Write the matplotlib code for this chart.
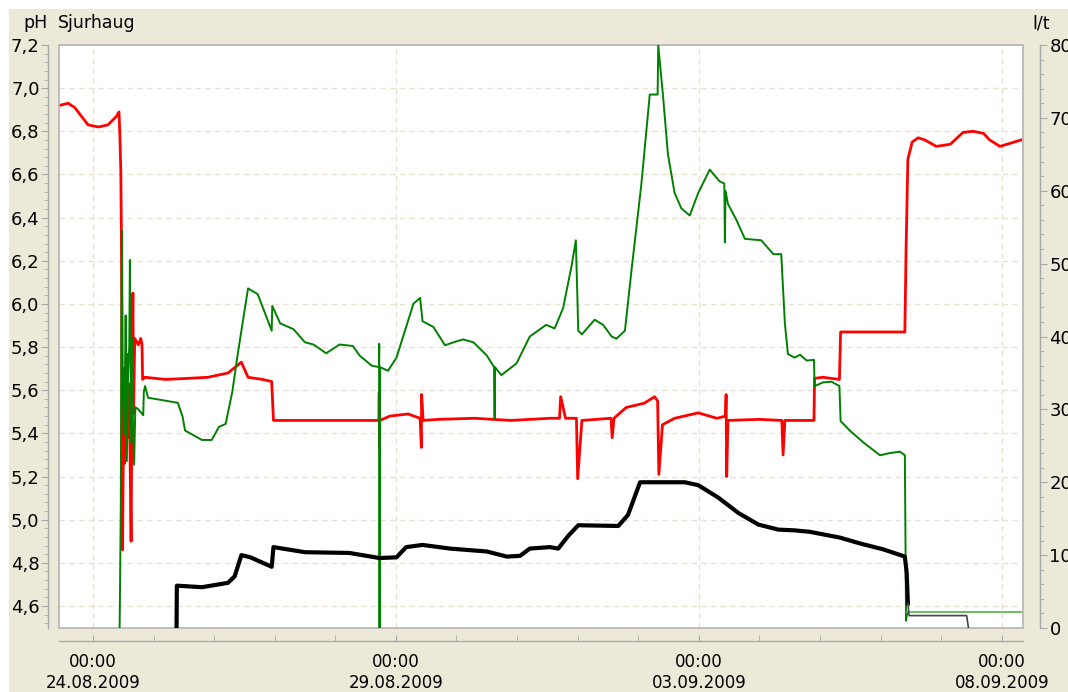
import numpy as np
import matplotlib
matplotlib.use("Agg")
import matplotlib.pyplot as plt
import matplotlib.ticker as mticker
from matplotlib.patches import Rectangle

# ── Data (days since 24.08.2009 00:00) ───────────────────────────
red_t = [-0.55, -0.41, -0.30, -0.19, -0.08, 0.09, 0.25, 0.39, 0.43, 0.445, 0.46, 0.47,
         0.475, 0.48, 0.49, 0.51, 0.52, 0.55, 0.57, 0.59, 0.61, 0.63, 0.65, 0.66, 0.67,
         0.69, 0.75, 0.79, 0.81, 0.82, 0.86, 1.20, 1.57, 1.90, 2.23, 2.45, 2.56, 2.80,
         2.95, 2.98, 3.50, 4.20, 4.72, 4.725, 4.73, 4.735, 4.90, 5.20, 5.40, 5.42, 5.425,
         5.45, 5.70, 6.30, 6.90, 7.54, 7.70, 7.72, 7.80, 7.98, 8.00, 8.07, 8.55, 8.57, 8.60,
         8.80, 9.10, 9.27, 9.32, 9.34, 9.40, 9.60, 9.99, 10.30, 10.44, 10.45, 10.46, 10.48,
         11.00, 11.37, 11.39, 11.42, 11.60, 11.90, 11.91, 12.05, 12.32, 12.34, 12.70, 13.00,
         13.40, 13.42, 13.45, 13.52, 13.62, 13.73, 13.92, 14.15, 14.36, 14.53, 14.70, 14.80,
         14.97, 15.32]
red_ph = [6.92, 6.93, 6.91, 6.87, 6.83, 6.82, 6.83, 6.87, 6.89, 6.78, 6.62, 6.30,
          5.98, 5.45, 4.86, 5.70, 5.26, 5.77, 5.38, 5.63, 5.36, 4.90, 5.88, 6.05, 5.49,
          5.84, 5.81, 5.84, 5.81, 5.65, 5.66, 5.65, 5.655, 5.66, 5.68, 5.73, 5.66, 5.65,
          5.64, 5.46, 5.46, 5.46, 5.46, 5.59, 5.33, 5.46, 5.48, 5.49, 5.47, 5.335, 5.58,
          5.46, 5.465, 5.47, 5.46, 5.47, 5.47, 5.57, 5.47, 5.47, 5.19, 5.46, 5.47, 5.38, 5.47,
          5.52, 5.54, 5.57, 5.55, 5.21, 5.44, 5.47, 5.495, 5.47, 5.48, 5.58, 5.20, 5.46,
          5.465, 5.46, 5.30, 5.46, 5.46, 5.46, 5.655, 5.66, 5.65, 5.87, 5.87, 5.87,
          5.87, 6.25, 6.67, 6.75, 6.77, 6.76, 6.73, 6.74, 6.795, 6.80, 6.79, 6.76,
          6.73, 6.76]

green_t = [0.44, 0.445, 0.46, 0.47, 0.48, 0.49, 0.51, 0.525, 0.54, 0.56, 0.58, 0.60,
           0.61, 0.63, 0.65, 0.66, 0.68, 0.70, 0.75, 0.83, 0.84, 0.86, 0.91, 1.40, 1.48,
           1.52, 1.80, 1.96, 2.08, 2.19, 2.30, 2.39, 2.56, 2.72, 2.95, 2.96, 3.09, 3.31,
           3.50, 3.64, 3.85, 4.07, 4.29, 4.40, 4.60, 4.72, 4.725, 4.73, 4.735, 4.87, 5.01,
           5.29, 5.40, 5.44, 5.62, 5.81, 5.95, 6.11, 6.28, 6.50, 6.62, 6.63, 6.635, 6.74,
           6.99, 7.21, 7.48, 7.62, 7.76, 7.90, 7.97, 8.01, 8.07, 8.28, 8.42, 8.56, 8.64,
           8.78, 8.89, 9.05, 9.19, 9.32, 9.33, 9.41, 9.49, 9.60, 9.71, 9.85, 9.99, 10.18,
           10.34, 10.42, 10.43, 10.44, 10.48, 10.62, 10.76, 11.03, 11.23, 11.36, 11.42,
           11.47, 11.58, 11.67, 11.78, 11.90, 11.91, 12.05, 12.19, 12.32, 12.34, 12.49,
           12.71, 12.99, 13.15, 13.32, 13.40, 13.42, 13.44, 15.32]
green_lt = [0, 34, 171, 408, 545, 345, 266, 303, 429, 229, 350, 387,
            505, 255, 397, 282, 224, 303, 300, 292, 324, 332, 316, 309, 290,
            271, 258, 258, 276, 280, 324, 376, 466, 458, 408, 442, 418, 410,
            392, 389, 377, 389, 387, 374, 360, 358, 390, 0, 358, 353, 371,
            445, 453, 421, 413, 388, 392, 396, 392, 374, 358, 287, 358, 347,
            363, 400, 416, 411, 439, 497, 532, 408, 403, 423, 416, 400, 397,
            408, 492, 608, 732, 732, 800, 729, 650, 597, 576, 566, 597, 629,
            613, 610, 529, 600, 582, 560, 534, 532, 513, 513, 418,
            376, 371, 375, 367, 368, 332, 337, 338, 332, 284, 271,
            255, 237, 240, 242, 237, 10, 22, 22]

black_t = [1.38, 1.385, 1.40, 1.80, 2.23, 2.34, 2.45, 2.60, 2.95, 2.98, 3.50, 4.23,
           4.73, 5.01, 5.17, 5.44, 5.89, 6.50, 6.83, 7.05, 7.21, 7.54, 7.68, 7.84, 8.01,
           8.67, 8.83, 9.03, 9.77, 9.99, 10.32, 10.65, 10.98, 11.31, 11.58, 11.83, 12.33,
           12.66, 13.04, 13.40, 13.43, 13.45, 13.47, 14.42, 14.45]
black_lt = [0, 58, 58, 56, 62, 71, 100, 97, 84, 111, 104, 103,
            96, 97, 111, 114, 109, 105, 98, 99, 109, 111, 109, 126, 141,
            140, 155, 200, 200, 196, 179, 158, 142, 135, 134, 132, 124,
            116, 108, 98, 76, 34, 17, 17, 0]

xtick_days = [0, 5, 10, 15]
xtick_labels = ["00:00\n24.08.2009", "00:00\n29.08.2009", "00:00\n03.09.2009", "00:00\n08.09.2009"]

# ── Style ─────────────────────────────────────────────────────────
BEIGE = "#ece9d8"
AXIS = "#a9a9a9"
GRID = "#e6e2cf"
plt.rcParams.update({
    "font.family": "DejaVu Sans",
    "font.size": 12,
})

fig = plt.figure(figsize=(10.68, 6.92), dpi=100, facecolor="white")
fig.patches.append(Rectangle((9 / 1068, 0), 1, 1 - 9 / 692, transform=fig.transFigure,
                             facecolor=BEIGE, edgecolor="none", zorder=-10))

ax = fig.add_axes([59 / 1068, 1 - 628 / 692, (1023 - 59) / 1068, (628 - 45) / 692])
ax.set_facecolor("white")
ax2 = ax.twinx()

ax.set_xlim(-0.56, 15.35)
ax.set_ylim(4.498, 7.2)
ax2.set_ylim(0, 800)

ax.plot(red_t, red_ph, color="#ff0000", lw=2.0, zorder=3)

gt = np.array(green_t)
gv = np.array(green_lt)
split = np.searchsorted(gt, 13.44)
ax2.plot(gt[:split + 1], gv[:split + 1], color="#008000", lw=1.4)
ax2.plot(gt[split:], gv[split:], color="#5cb85c", lw=1.3)

bt = np.array(black_t)
bv = np.array(black_lt)
bsplit = np.searchsorted(bt, 13.45)
ax2.plot(bt[:bsplit + 1], bv[:bsplit + 1], color="black", lw=3.0)
ax2.plot(bt[bsplit:], bv[bsplit:], color="#444444", lw=1.2)

# grid
ax.yaxis.set_major_locator(mticker.MultipleLocator(0.2))
ax.yaxis.set_minor_locator(mticker.AutoMinorLocator(5))
ax.yaxis.set_major_formatter(mticker.FuncFormatter(lambda v, p: f"{v:.1f}".replace(".", ",")))
ax.set_xticks(xtick_days)
ax.set_xticklabels(xtick_labels, linespacing=1.25)
ax.xaxis.set_minor_locator(mticker.MultipleLocator(1))
ax.grid(True, which="major", color=GRID, linestyle=(0, (4, 3)), lw=1)
ax.set_axisbelow(True)

ax2.yaxis.set_major_locator(mticker.MultipleLocator(100))
ax2.yaxis.set_minor_locator(mticker.AutoMinorLocator(5))

# spines
for s in ["top", "right"]:
    ax.spines[s].set_visible(False)
for s in ["top", "left", "bottom"]:
    ax2.spines[s].set_visible(False)
ax.spines["left"].set_position(("outward", 8))
ax.spines["bottom"].set_position(("outward", 9))
ax2.spines["right"].set_position(("outward", 12))
for sp in [ax.spines["left"], ax.spines["bottom"], ax2.spines["right"]]:
    sp.set_color(AXIS)
    sp.set_linewidth(1)

ax.tick_params(axis="y", which="major", direction="out", length=5, color=AXIS, pad=1, labelsize=13)
ax.tick_params(axis="y", which="minor", direction="out", length=3, color=AXIS)
ax.tick_params(axis="x", which="both", direction="in", length=4, color=AXIS, pad=9, labelsize=12)
ax2.tick_params(axis="y", which="major", direction="out", length=5, color=AXIS, pad=2, labelsize=13)
ax2.tick_params(axis="y", which="minor", direction="out", length=3, color=AXIS)

# plot frame
ax.add_patch(Rectangle((0, 0), 1, 1, transform=ax.transAxes, fill=False,
                       edgecolor="#b4b4b4", lw=1.2, clip_on=False, zorder=5))

fig.text(48 / 1068, 1 - 23 / 692, "pH", ha="right", va="center", fontsize=12.5)
fig.text(58 / 1068, 1 - 23 / 692, "Sjurhaug", ha="left", va="center", fontsize=12.5)
fig.text(1032 / 1068, 1 - 23 / 692, "l/t", ha="left", va="center", fontsize=12.5)

fig.savefig("out.png", dpi=100, facecolor="white")
